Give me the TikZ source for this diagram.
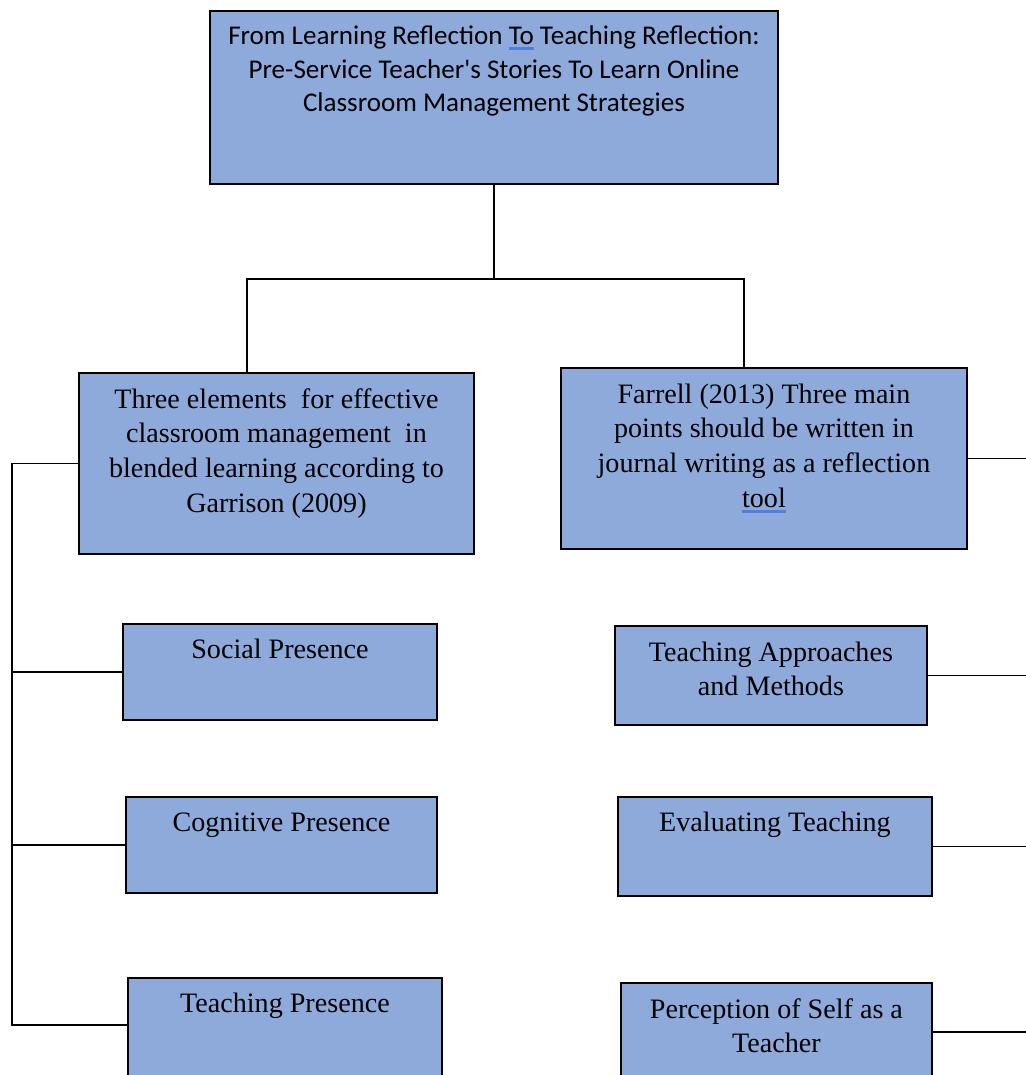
\documentclass[tikz,border=0pt]{standalone}
\usepackage{fontspec}
\setmainfont{Liberation Serif}
\newfontfamily\titlefont{Carlito}
\usepackage{tikz}
\usetikzlibrary{positioning,calc}
\usepackage{xcolor}
\definecolor{boxblue}{HTML}{8EAADB}
\definecolor{markblue}{HTML}{4F7FE0}
\newcommand{\spellmark}[1]{\setbox0\hbox{#1}\leavevmode\rlap{\color{markblue}\rule[-3.2pt]{\wd0}{1.6pt}}\box0\relax}
\tikzset{
  framebox/.style={
    draw=black,
    fill=boxblue,
    line width=1.1pt,
    inner sep=0pt,
    anchor=north west,
    align=center
  },
  mainbox/.style={
    framebox,
    text height=2.79cm,
    text depth=0.83cm,
    font=\fontsize{16}{19.8}\selectfont
  },
  leafbox/.style={
    framebox,
    text height=0.7cm,
    text depth=1.22cm,
    font=\fontsize{16}{19.8}\selectfont
  },
  titlebox/.style={
    framebox,
    text height=2.02cm,
    text depth=1.44cm,
    font=\titlefont\fontsize{15.4}{19.3}\selectfont
  },
  link/.style={
    line width=1.1pt,
    draw=black
  }
}

\begin{document}
\begin{tikzpicture}
\useasboundingbox (0,0) rectangle (20.52,-21.5);
\clip (0,0) rectangle (20.52,-21.5);
\node[titlebox, minimum width=11.36cm] (title) at (4.18,-0.20)
  {From Learning Reflection \spellmark{To} Teaching Reflection:\\Pre-Service Teacher's Stories To Learn Online\\Classroom Management Strategies};
\node[mainbox, minimum width=7.90cm] (garrison) at (1.56,-7.44)
  {Three elements\ \ for effective\\classroom management\ \ in\\blended learning according to\\Garrison (2009)};
\node[mainbox, minimum width=8.12cm] (farrell) at (11.20,-7.34)
  {Farrell (2013) Three main\\points should be written in\\journal writing as a reflection\\\spellmark{tool}};
% left branch
\node[leafbox, minimum width=6.28cm] (social) at (2.44,-12.46) {Social Presence};
\node[leafbox, minimum width=6.22cm] (cognitive) at (2.50,-15.92) {Cognitive Presence};
\node[leafbox, minimum width=6.28cm, text depth=1.7cm] (teachpres) at (2.54,-19.54) {Teaching Presence};
% right branch
\node[leafbox, minimum width=6.24cm, text height=1.4cm, text depth=0.58cm] (approaches) at (12.28,-12.50) {Teaching Approaches\\and Methods};
\node[leafbox, minimum width=6.28cm, text depth=1.28cm] (evaluating) at (12.34,-15.92) {Evaluating Teaching};
\node[leafbox, minimum width=6.22cm, text height=1.4cm, text depth=1cm] (selfperc) at (12.40,-19.64) {Perception of Self as a\\Teacher};
% joints
\coordinate (jl) at (4.94,-5.58);
\coordinate (jr) at (14.88,-5.58);
\coordinate (spine) at (0.24,0);
\coordinate (rim) at (20.8,0);
\draw[link] (title.south) -- (title.south |- jl);
\draw[link] (garrison.north -| jl) -- (jl) -- (jr) -- (farrell.north -| jr);
\draw[link] (garrison.west) -- (garrison.west -| spine) |- ([yshift=-0.96cm]teachpres.north west);
\draw[link] (spine |- social.west) -- (social.west);
\draw[link] (spine |- cognitive.west) -- (cognitive.west);
\draw[link] (farrell.east) -- (farrell.east -| rim);
\draw[link] (approaches.east) -- (approaches.east -| rim);
\draw[link] (evaluating.east) -- (evaluating.east -| rim);
\draw[link] ([yshift=-1cm]selfperc.north east) -- ([yshift=-1cm]selfperc.north east -| rim);
\end{tikzpicture}
\end{document}
